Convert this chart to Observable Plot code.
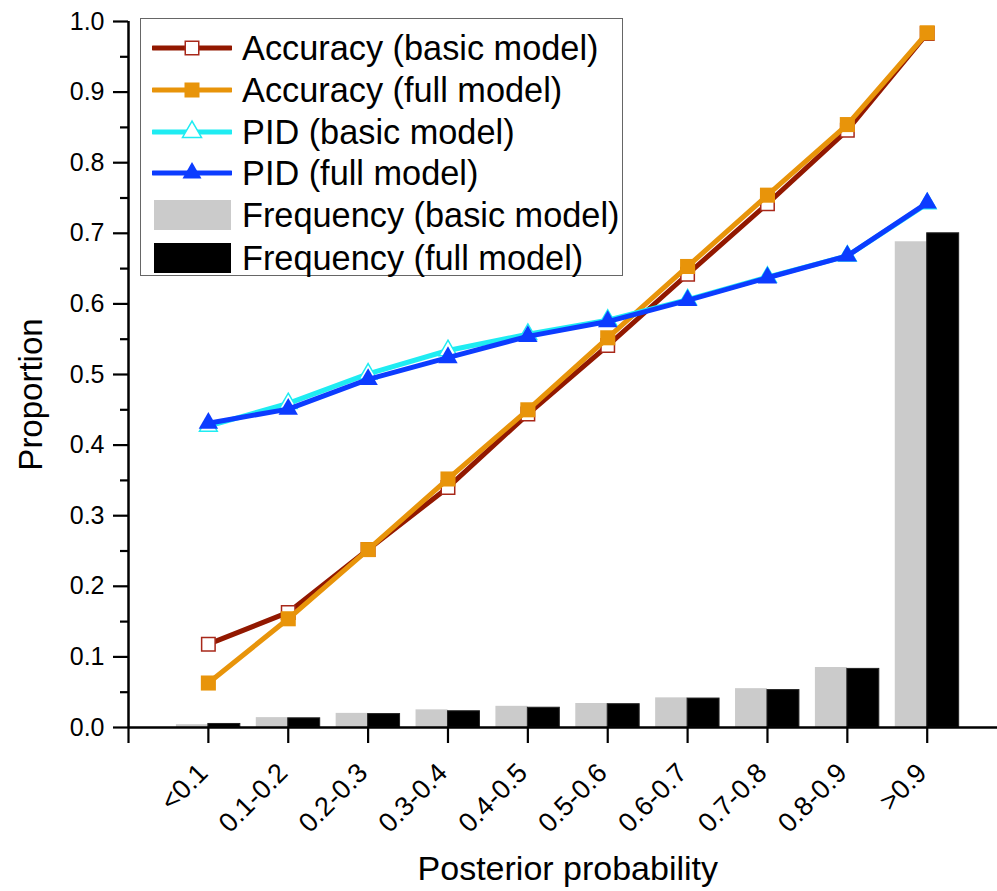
<!DOCTYPE html>
<html>
<head>
<meta charset="utf-8">
<script src="https://cdn.jsdelivr.net/npm/d3@7"></script>
<script src="https://cdn.jsdelivr.net/npm/@observablehq/plot@0.6"></script>
<style>
  html, body { margin: 0; padding: 0; background: #fff; }
  #wrap { position: relative; width: 997px; height: 891px; font-family: "Liberation Sans", Arial, sans-serif; }
  #legend {
    position: absolute; left: 140px; top: 18px; width: 481px; height: 256px;
    border: 1.5px solid #666; background: #fff; box-sizing: content-box;
  }
  .row { position: absolute; left: 0; height: 42px; display: flex; align-items: center; }
  .row svg { display: block; margin-left: 11px; }
  .row span { font-size: 34.3px; color: #000; margin-left: 10px; white-space: nowrap; line-height: 1; }
</style>
</head>
<body>
<div id="wrap">
  <div id="chart"></div>
  <div id="legend"></div>
</div>
<script>
// Posterior probability bins
const categories = ["<0.1", "0.1-0.2", "0.2-0.3", "0.3-0.4", "0.4-0.5", "0.5-0.6", "0.6-0.7", "0.7-0.8", "0.8-0.9", ">0.9"];

// Accuracy per bin
const accuracyBasic = [0.118, 0.163, 0.252, 0.340, 0.444, 0.541, 0.642, 0.742, 0.846, 0.983];
const accuracyFull  = [0.063, 0.154, 0.252, 0.352, 0.450, 0.552, 0.653, 0.754, 0.854, 0.984];

// PID per bin
const pidBasic = [0.427, 0.459, 0.501, 0.534, 0.557, 0.577, 0.606, 0.638, 0.668, 0.742];
const pidFull  = [0.431, 0.451, 0.493, 0.524, 0.554, 0.575, 0.605, 0.637, 0.668, 0.743];

// Share of cases falling in each bin
const frequencyBasic = [0.004, 0.014, 0.020, 0.025, 0.030, 0.034, 0.042, 0.055, 0.085, 0.688];
const frequencyFull  = [0.005, 0.013, 0.019, 0.023, 0.028, 0.033, 0.041, 0.053, 0.083, 0.700];

const yMajorTicks = [0, 0.1, 0.2, 0.3, 0.4, 0.5, 0.6, 0.7, 0.8, 0.9, 1.0];
const yMinorTicks = [0.05, 0.15, 0.25, 0.35, 0.45, 0.55, 0.65, 0.75, 0.85, 0.95];

const colors = {
  accBasic: "#921800",
  accFull: "#e8940a",
  pidBasic: "#1fecf2",
  pidFull: "#0c3cff",
  freqBasic: "#cbcbcb",
  freqFull: "#000000"
};

const bins = categories.map((label, k) => ({
  pos: k + 1,
  label,
  accBasic: accuracyBasic[k],
  accFull: accuracyFull[k],
  pidBasic: pidBasic[k],
  pidFull: pidFull[k],
  freqBasic: frequencyBasic[k],
  freqFull: frequencyFull[k]
}));

const barHalf = 0.4;
const xTicks = d3.range(0, categories.length + 1);

const chart = Plot.plot({
  width: 997,
  height: 891,
  marginLeft: 128,
  marginRight: 0,
  marginTop: 21,
  marginBottom: 164,
  style: { fontFamily: "'Liberation Sans', Arial, sans-serif", background: "#fff", overflow: "visible" },
  x: { type: "linear", domain: [0, 10.88], axis: null },
  y: { domain: [0, 1], axis: null },
  marks: [
    // frequency bars: basic to the left of each tick, full to the right
    Plot.rectY(bins, { x1: d => d.pos - barHalf, x2: d => d.pos, y: "freqBasic", fill: colors.freqBasic }),
    Plot.rectY(bins, { x1: d => d.pos, x2: d => d.pos + barHalf, y: "freqFull", fill: colors.freqFull, stroke: "#222", strokeWidth: 1 }),

    // accuracy curves
    Plot.line(bins, { x: "pos", y: "accBasic", stroke: colors.accBasic, strokeWidth: 5 }),
    Plot.dot(bins, { x: "pos", y: "accBasic", symbol: "square", r: 7.6, fill: "#fff", stroke: "#a8281a", strokeWidth: 1.5 }),
    Plot.line(bins, { x: "pos", y: "accFull", stroke: colors.accFull, strokeWidth: 5 }),
    Plot.dot(bins, { x: "pos", y: "accFull", symbol: "square", r: 8.5, fill: colors.accFull, stroke: "none" }),

    // PID curves
    Plot.line(bins, { x: "pos", y: "pidBasic", stroke: colors.pidBasic, strokeWidth: 5 }),
    Plot.dot(bins, { x: "pos", y: "pidBasic", symbol: "triangle", r: 6.6, fill: "#fff", stroke: colors.pidBasic, strokeWidth: 1.5 }),
    Plot.line(bins, { x: "pos", y: "pidFull", stroke: colors.pidFull, strokeWidth: 5 }),
    Plot.dot(bins, { x: "pos", y: "pidFull", symbol: "triangle", r: 7.2, fill: colors.pidFull, stroke: "none" }),

    // axis lines
    Plot.ruleY([0], { stroke: "#000", strokeWidth: 2.5 }),
    Plot.ruleX([0], { stroke: "#000", strokeWidth: 2.5 }),

    // y axis: labelled major ticks and short minor ticks
    Plot.axisY(yMajorTicks, { tickSize: 15, tickPadding: 9, tickFormat: d3.format(".1f"), fontSize: 25, strokeWidth: 2.2, label: null, fill: "#000", color: "#000" }),
    Plot.axisY(yMinorTicks, { tickSize: 8, tickFormat: () => "", strokeWidth: 2.2, label: null }),

    // x axis ticks
    Plot.axisX(xTicks, { tickSize: 16, tickFormat: () => "", strokeWidth: 2.2, label: null }),

    // rotated bin labels
    Plot.text(bins, { x: "pos", text: "label", frameAnchor: "bottom", rotate: -45, textAnchor: "end", dy: 47, dx: 1, fontSize: 27, fill: "#000" }),

    // axis titles
    Plot.text(["Posterior probability"], { x: d3.mean(bins, d => d.pos), frameAnchor: "bottom", dy: 152, fontSize: 34, fill: "#000" }),
    Plot.text(["Proportion"], { frameAnchor: "left", rotate: -90, textAnchor: "middle", dx: -97, dy: 20, fontSize: 33, fill: "#000" })
  ]
});

document.getElementById("chart").appendChild(chart);

// legend drawn over the plot area
const legendItems = [
  { label: "Accuracy (basic model)", kind: "line", color: colors.accBasic, marker: "square-open", mcolor: "#a8281a" },
  { label: "Accuracy (full model)", kind: "line", color: colors.accFull, marker: "square", mcolor: colors.accFull },
  { label: "PID (basic model)", kind: "line", color: colors.pidBasic, marker: "triangle-open", mcolor: colors.pidBasic },
  { label: "PID (full model)", kind: "line", color: colors.pidFull, marker: "triangle", mcolor: colors.pidFull },
  { label: "Frequency (basic model)", kind: "box", color: colors.freqBasic },
  { label: "Frequency (full model)", kind: "box", color: colors.freqFull }
];

const legend = d3.select("#legend");
const rowTops = [7.7, 50, 91.7, 133.3, 175.3, 217.7];
legendItems.forEach((item, k) => {
  const row = legend.append("div").attr("class", "row").style("top", rowTops[k] + "px");
  const svg = row.append("svg").attr("width", 80).attr("height", 42);
  if (item.kind === "line") {
    svg.append("line").attr("x1", 1).attr("x2", 79).attr("y1", 21).attr("y2", 21)
      .attr("stroke", item.color).attr("stroke-width", 5).attr("stroke-linecap", "round");
    if (item.marker.startsWith("square")) {
      const s = item.marker === "square" ? 15 : 13.5;
      svg.append("rect").attr("x", 40 - s / 2).attr("y", 21 - s / 2).attr("width", s).attr("height", s)
        .attr("fill", item.marker === "square" ? item.mcolor : "#fff")
        .attr("stroke", item.marker === "square" ? "none" : item.mcolor).attr("stroke-width", 1.5);
    } else {
      const s = 19;
      const h = s * Math.sqrt(3) / 2;
      const pts = [[40, 21 - h * 2 / 3], [40 - s / 2, 21 + h / 3], [40 + s / 2, 21 + h / 3]];
      svg.append("polygon").attr("points", pts.map(p => p.join(",")).join(" "))
        .attr("fill", item.marker === "triangle" ? item.mcolor : "#fff")
        .attr("stroke", item.marker === "triangle" ? "none" : item.mcolor).attr("stroke-width", 1.5);
    }
  } else {
    svg.append("rect").attr("x", 2).attr("y", 6).attr("width", 77).attr("height", 30)
      .attr("fill", item.color);
  }
  row.append("span").text(item.label);
});
</script>
</body>
</html>
